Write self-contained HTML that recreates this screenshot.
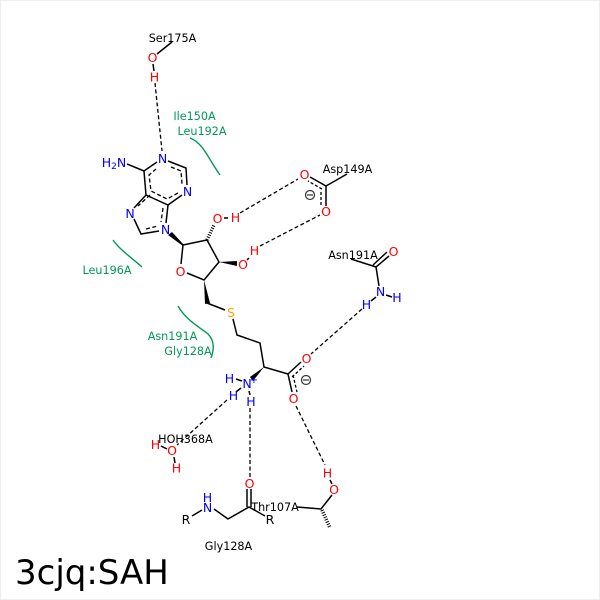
<!DOCTYPE html>
<html><head><meta charset="utf-8"><style>
html,body{margin:0;padding:0;background:#fff}
svg{display:block}
text{font-family:"DejaVu Sans",sans-serif;font-size:11.2px;text-anchor:middle}
.k{fill:#000}.g{fill:#009a54}.b{fill:#0000ff;font-size:12.5px}.r{fill:#ff0000;font-size:12.5px}.s{fill:#ffa500;font-size:12.5px}
.l{stroke:#000;stroke-width:1.5;fill:none}
.i{stroke:#000;stroke-width:1.3;fill:none;stroke-dasharray:4 2.5}
.d{stroke:#000;stroke-width:1.3;fill:none;stroke-dasharray:4 2.5}
.c{stroke:#009a54;stroke-width:1.4;fill:none}
</style></head><body>
<svg width="600" height="600" viewBox="0 0 600 600" xmlns="http://www.w3.org/2000/svg">
<rect width="600" height="600" fill="#fff"/>
<rect x="0.5" y="0.5" width="599" height="599" fill="none" stroke="#eee"/>
<!-- hydrogen bonds -->
<path class="d" d="M155 83L162 151M240 213L298 179M260 246L320 215M362 309L311 354M227 400L177 445M250 408L250 478M296 406L325 465"/>
<!-- green arcs -->
<path class="c" d="M190 138C203 143 208 158 220 175M113 240C120 250 132 258 142 267M178 306C186 320 198 326 208 334C215 341 214 350 211 358"/>
<!-- adenine -->
<path class="l" d="M168 161L186 168L187 185M182 195L168 205L146 195L144 171L157 162M127 164L144 171M146 195L134 208M134 219L141 234L159 231M168 205L166 223"/>
<path class="i" d="M171 167L181 171L182 184M178 193L167 199L151 191L149 175L156 169M150 195L138 206M146 229L158 226M163 208L161 222"/>
<!-- ribose -->
<polygon points="168,235 172,232 184,245 183,246" fill="#000"/>
<path class="l" d="M183 245L207 240L219 262L204 280L187 273M183 245L181 264"/>
<path d="M207 240L214 225" stroke="#000" stroke-width="3.4" stroke-dasharray="1 1.5" fill="none"/>
<polygon points="219,262 237,261 237,266" fill="#000"/>
<polygon points="204,280 205,304 210,303" fill="#000"/>
<path class="l" d="M224 218L228 218M207 303L225 310M233 319L237 335L260 343L264 367L288 374"/>
<path class="l" d="M249 258L247 260"/>
<polygon points="264,367 250,377 253,381" fill="#000"/>
<!-- Carboxylate -->
<path class="l" d="M288 374L301 362M288 374L292 392"/>
<path class="i" style="stroke-dasharray:3 2" d="M292 377L304 366M293 375L297 392"/>
<!-- NH3 -->
<path class="l" d="M236 379L242 381M241 388L236 392M249 391L250 395"/>
<!-- Ser -->
<path class="l" d="M172 42L157 54M153 64L154 71"/>
<!-- Asp -->
<path class="l" d="M347 174L326 186L326 206M326 186L310 177"/>
<path class="i" style="stroke-dasharray:3 2" d="M322 189L308 181M321 192V206"/>
<!-- Asn -->
<path class="l" d="M351 259L376 267L379 286M376 267L389 256M373 265L387 252M386 295L392 297M376 297L371 301"/>
<!-- Water -->
<path class="l" d="M161 446L167 449M174 457L175 463"/>
<!-- Gly -->
<path class="l" d="M192 516L202 510M214 509L228 519L249 507L265 516M247 507V489M251 507V489"/>
<!-- Thr -->
<path class="l" d="M297 507L321 509L332 495M330 480L332 484"/>
<path d="M322 510L330 528" stroke="#000" stroke-width="3.6" stroke-dasharray="1 1.5" fill="none"/>
<!-- charges -->
<g fill="none" stroke="#333" stroke-width="1.2"><circle cx="310" cy="195" r="4.5"/><path d="M307 195H313"/><circle cx="306" cy="380" r="4.5"/><path d="M303 380H309"/></g>
<!-- text -->
<text class="k" x="172.500" y="42">Ser175A</text>
<text class="k" x="347.500" y="173">Asp149A</text>
<text class="k" x="353" y="259">Asn191A</text>
<text class="k" x="185.500" y="443">HOH368A</text>
<text class="k" x="275" y="511">Thr107A</text>
<text class="k" x="228.500" y="550">Gly128A</text>
<text class="g" x="194.500" y="120">Ile150A</text>
<text class="g" x="202" y="135">Leu192A</text>
<text class="g" x="107" y="274">Leu196A</text>
<text class="g" x="172.500" y="340">Asn191A</text>
<text class="g" x="188" y="355">Gly128A</text>
<text class="r" x="152.500" y="62">O</text><text class="r" x="154.500" y="81.500">H</text>
<text class="b" x="162.500" y="163">N</text><text class="b" x="187.500" y="196">N</text><text class="b" x="130" y="218">N</text><text class="b" x="165.500" y="234">N</text>
<text class="b" x="114" y="167">H<tspan font-size="9" dy="2">2</tspan><tspan dy="-2">N</tspan></text>
<text class="r" x="180.500" y="276">O</text><text class="r" x="217.500" y="223">O</text><text class="r" x="235.500" y="222">H</text>
<text class="r" x="243" y="269">O</text><text class="r" x="254.500" y="255">H</text>
<text class="r" x="304.500" y="179">O</text><text class="r" x="326" y="216">O</text>
<text class="r" x="393.500" y="256">O</text><text class="b" x="380.500" y="296">N</text><text class="b" x="397" y="302">H</text><text class="b" x="366.500" y="309">H</text>
<text class="s" x="231" y="317">S</text>
<text class="r" x="306.500" y="363">O</text><text class="r" x="293.500" y="403">O</text>
<text class="b" x="247" y="388">N</text><text x="254" y="383" style="font-size:10px;fill:#0000ff">+</text>
<text class="b" x="229.500" y="383">H</text><text class="b" x="233.500" y="400">H</text><text class="b" x="251" y="406">H</text>
<text class="r" x="172" y="455">O</text><text class="r" x="155.500" y="449">H</text><text class="r" x="176.500" y="472.500">H</text>
<text class="r" x="249.500" y="488">O</text><text class="b" x="207.500" y="512">N</text><text class="b" x="207.500" y="502">H</text>
<text class="k" x="186" y="524" style="font-size:12.5px">R</text><text class="k" x="270" y="524" style="font-size:12.5px">R</text>
<text class="r" x="334" y="494">O</text><text class="r" x="327.500" y="477.500">H</text>
<text x="15" y="584" style="font-size:34px;text-anchor:start;fill:#000">3cjq:SAH</text>
</svg>
</body></html>
